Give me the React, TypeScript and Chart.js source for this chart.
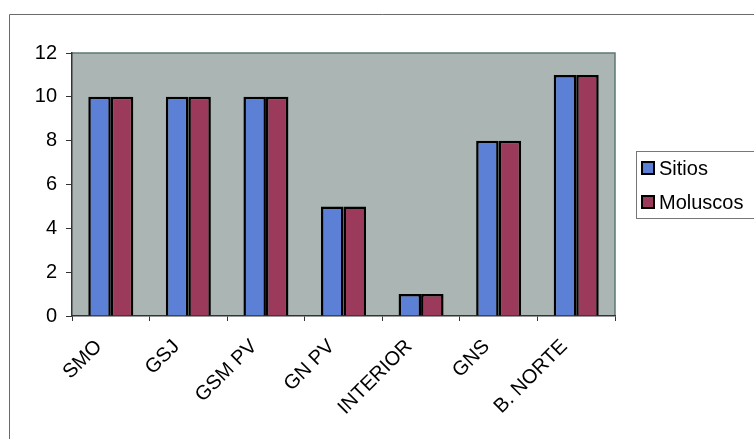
import React, { useEffect, useRef } from "react";
import { Chart, registerables } from "chart.js";

Chart.register(...registerables);

const categories = ["SMO", "GSJ", "GSM PV", "GN PV", "INTERIOR", "GNS", "B. NORTE"];
const sitios = [10, 10, 10, 5, 1, 8, 11];
const moluscos = [10, 10, 10, 5, 1, 8, 11];
const seriesNames = ["Sitios", "Moluscos"];
const seriesColors = ["#5b80d6", "#9b3a5a"];

const FONT = "'Liberation Sans', Arial, sans-serif";

const framePlugin = {
  id: "frame",
  beforeDraw(chart: any) {
    const { ctx, chartArea } = chart;
    ctx.save();
    ctx.fillStyle = "#ffffff";
    ctx.fillRect(0, 0, chart.width, chart.height);
    // outer frame
    ctx.strokeStyle = "#6a6a6a";
    ctx.lineWidth = 1;
    ctx.beginPath();
    ctx.moveTo(9.5, 800);
    ctx.lineTo(9.5, 14.5);
    ctx.lineTo(chart.width + 10, 14.5);
    ctx.stroke();
    // plot background
    ctx.fillStyle = "#abb5b4";
    ctx.fillRect(chartArea.left, chartArea.top, chartArea.right - chartArea.left, chartArea.bottom - chartArea.top);
    ctx.strokeStyle = "#5f7a72";
    ctx.lineWidth = 1.5;
    ctx.beginPath();
    ctx.moveTo(chartArea.left, chartArea.top);
    ctx.lineTo(chartArea.right, chartArea.top);
    ctx.lineTo(chartArea.right, chartArea.bottom);
    ctx.stroke();
    ctx.restore();
  },
  afterDraw(chart: any) {
    const { ctx } = chart;
    const ds = chart.data.datasets;
    ctx.save();
    const bx = 636.5, by = 151.5, bw = 140, bh = 67;
    ctx.strokeStyle = "#777777";
    ctx.lineWidth = 1;
    ctx.strokeRect(bx, by, bw, bh);
    ctx.font = `20px ${FONT}`;
    ctx.textBaseline = "middle";
    ctx.textAlign = "left";
    ds.forEach((d: any, i: number) => {
      const cy = 168 + i * 34;
      ctx.fillStyle = d.backgroundColor;
      ctx.fillRect(642, cy - 6, 12, 12);
      ctx.strokeStyle = "#000000";
      ctx.lineWidth = 2;
      ctx.strokeRect(642, cy - 6, 12, 12);
      ctx.fillStyle = "#000000";
      ctx.fillText(d.label, 659, cy + 1);
    });
    ctx.restore();
  },
};

export default function App() {
  const ref = useRef<HTMLCanvasElement | null>(null);
  useEffect(() => {
    document.body.style.margin = "0";
    const canvas = ref.current!;
    const chart = new Chart(canvas, {
      type: "bar",
      data: {
        labels: categories,
        datasets: [
          {
            label: seriesNames[0],
            data: sitios,
            backgroundColor: seriesColors[0],
            borderColor: "#000000",
            borderWidth: 2.5,
            categoryPercentage: 0.58,
            barPercentage: 1.0,
          },
          {
            label: seriesNames[1],
            data: moluscos,
            backgroundColor: seriesColors[1],
            borderColor: "#000000",
            borderWidth: 2.5,
            categoryPercentage: 0.58,
            barPercentage: 1.0,
          },
        ],
      },
      options: {
        animation: false,
        responsive: false,
        maintainAspectRatio: false,
        layout: { padding: { left: 0, top: 53, right: 139, bottom: 0 } },
        plugins: {
          legend: { display: false },
          tooltip: { enabled: false },
          title: { display: false },
        },
        scales: {
          x: {
            grid: {
              offset: true,
              drawOnChartArea: false,
              drawTicks: true,
              tickLength: 5,
              color: "#333333",
            },
            border: { display: true, color: "#333333", width: 1.5 },
            ticks: {
              color: "#000000",
              font: { family: FONT, size: 20 },
              maxRotation: 45,
              minRotation: 45,
              padding: 14,
              labelOffset: -12,
              autoSkip: false,
            },
            afterFit(scale: any) {
              scale.height = 123;
            },
          },
          y: {
            min: 0,
            max: 12,
            grid: {
              drawOnChartArea: false,
              drawTicks: true,
              tickLength: 6,
              color: "#333333",
            },
            border: { display: true, color: "#333333", width: 1.5 },
            ticks: {
              stepSize: 2,
              color: "#000000",
              font: { family: FONT, size: 20 },
              padding: 9,
            },
            afterFit(scale: any) {
              scale.width = 72;
            },
          },
        },
      },
      plugins: [framePlugin],
    });
    return () => chart.destroy();
  }, []);
  return (
    <div style={{ position: "absolute", left: 0, top: 0, width: 754, height: 439 }}>
      <canvas ref={ref} width={754} height={439} style={{ display: "block" }} />
    </div>
  );
}
